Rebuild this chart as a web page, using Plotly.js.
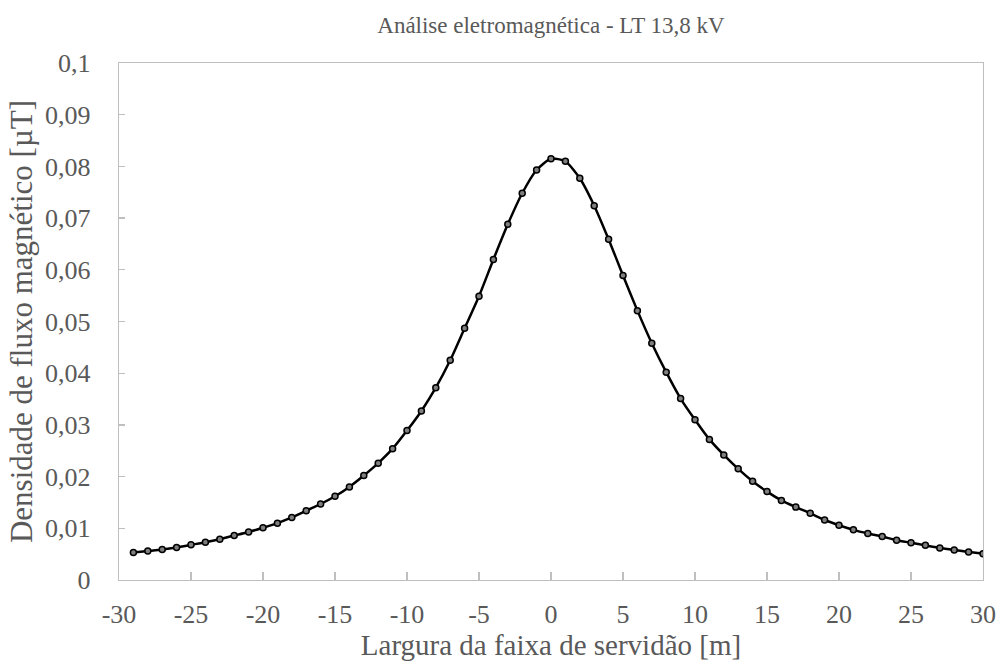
<!DOCTYPE html>
<html>
<head>
<meta charset="utf-8">
<script src="https://cdn.plot.ly/plotly-3.0.1.min.js"></script>
<style>html,body{margin:0;padding:0;background:#fff;}#chart{width:1000px;height:666px;}</style>
</head>
<body>
<div id="chart"></div>
<script>
const distance = [-29,-28,-27,-26,-25,-24,-23,-22,-21,-20,-19,-18,-17,-16,-15,-14,-13,-12,-11,-10,-9,-8,-7,-6,-5,-4,-3,-2,-1,0,1,2,3,4,5,6,7,8,9,10,11,12,13,14,15,16,17,18,19,20,21,22,23,24,25,26,27,28,29,30];
const fluxDensity = [0.0053,0.0056,0.0059,0.0063,0.0068,0.0073,0.0079,0.0086,0.0093,0.0101,0.0110,0.0121,0.0134,0.0147,0.0162,0.0180,0.0202,0.0226,0.0254,0.0289,0.0327,0.0372,0.0425,0.0487,0.0549,0.0620,0.0688,0.0748,0.0793,0.0815,0.0810,0.0777,0.0724,0.0659,0.0589,0.0521,0.0458,0.0402,0.0351,0.0310,0.0272,0.0242,0.0215,0.0191,0.0171,0.0154,0.0141,0.0129,0.0116,0.0106,0.0097,0.0090,0.0084,0.0077,0.0072,0.0067,0.0062,0.0058,0.0054,0.0051];
const xTicks = [-30,-25,-20,-15,-10,-5,0,5,10,15,20,25,30];

const font = 'Liberation Serif';
const trace = {
  x: distance,
  y: fluxDensity,
  type: 'scatter',
  mode: 'lines+markers',
  line: {color: '#000000', width: 2.5, shape: 'spline', smoothing: 0.6},
  marker: {symbol: 'circle', size: 6, color: '#7f7f7f', line: {color: '#000000', width: 1.5}},
  hoverinfo: 'x+y'
};
const layout = {
  width: 1000, height: 666,
  paper_bgcolor: '#ffffff', plot_bgcolor: '#ffffff',
  separators: ',.',
  font: {family: font, color: '#595959'},
  margin: {l: 119, r: 17, t: 63, b: 86},
  showlegend: false,
  title: {text: 'Análise eletromagnética - LT 13,8 kV', font: {family: font, size: 23, color: '#595959'}, x: 0.551, xanchor: 'center', y: 0.962, yanchor: 'middle'},
  xaxis: {
    range: [-30, 30], tickvals: xTicks, ticktext: xTicks.map(v => String(v)),
    showgrid: false, zeroline: false,
    showline: true, linecolor: '#bfbfbf', linewidth: 1.3, mirror: true,
    ticks: 'inside', ticklen: 8, tickcolor: '#bfbfbf', tickwidth: 1.3,
    ticklabelstandoff: 10,
    tickfont: {family: font, size: 26, color: '#595959'},
    title: {text: 'Largura da faixa de servidão [m]', font: {family: font, size: 29, color: '#595959'}, standoff: 7}
  },
  yaxis: {
    range: [0, 0.1], dtick: 0.01, tick0: 0,
    showgrid: false, zeroline: false,
    showline: true, linecolor: '#bfbfbf', linewidth: 1.3, mirror: true,
    ticks: 'inside', ticklen: 6, tickcolor: '#bfbfbf', tickwidth: 1.3,
    ticklabelstandoff: 22,
    tickfont: {family: font, size: 26, color: '#595959'},
    title: {text: 'Densidade de fluxo magnético [µT]', font: {family: font, size: 31, color: '#595959'}, standoff: 3}
  }
};
Plotly.newPlot('chart', [trace], layout, {displayModeBar: false, staticPlot: true});
</script>
</body>
</html>
